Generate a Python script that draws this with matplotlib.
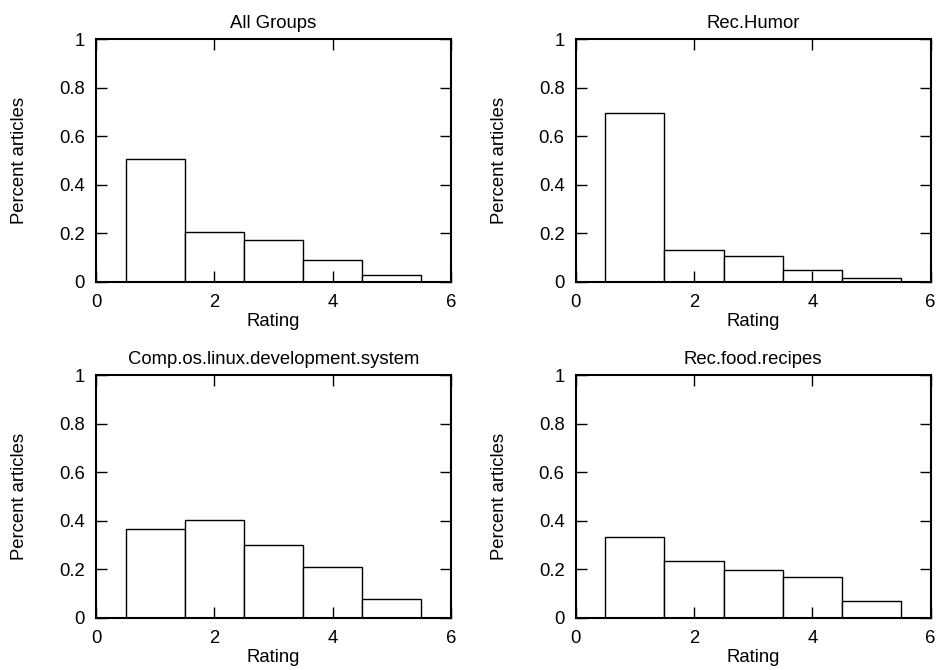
import matplotlib
matplotlib.use("Agg")
import matplotlib.pyplot as plt

plt.rcParams["font.family"] = ["Liberation Sans", "DejaVu Sans"]
plt.rcParams["font.size"] = 13.3

ratings = [1, 2, 3, 4, 5]
titles = ["All Groups", "Rec.Humor", "Comp.os.linux.development.system", "Rec.food.recipes"]

all_groups = [0.505, 0.204, 0.171, 0.088, 0.026]
rec_humor = [0.697, 0.131, 0.104, 0.048, 0.015]
comp_linux = [0.365, 0.403, 0.300, 0.210, 0.076]
food_recipes = [0.333, 0.234, 0.195, 0.168, 0.069]

series = [all_groups, rec_humor, comp_linux, food_recipes]

fig = plt.figure(figsize=(9.39, 6.70), dpi=100)

# axes boxes in figure fractions: left, bottom, width, height
boxes = [
    [0.1022, 0.5796, 0.378, 0.3617],
    [0.6131, 0.5796, 0.378, 0.3617],
    [0.1022, 0.0781, 0.378, 0.3619],
    [0.6131, 0.0781, 0.378, 0.3619],
]

for box, title, values in zip(boxes, titles, series):
    ax = fig.add_axes(box)
    ax.bar(ratings, values, width=1.0, color="white", edgecolor="black", linewidth=1.0)
    ax.set_xlim(0, 6)
    ax.set_ylim(0, 1)
    ax.set_xticks([0, 2, 4, 6])
    ax.set_yticks([0, 0.2, 0.4, 0.6, 0.8, 1.0])
    ax.set_yticklabels(["0", "0.2", "0.4", "0.6", "0.8", "1"])
    ax.tick_params(direction="in", length=8, width=1, top=True, right=True, pad=8)
    ax.tick_params(axis="x", pad=9)
    for spine in ax.spines.values():
        spine.set_linewidth(1.5)
    ax.set_title(title, fontsize=13.3, pad=8)
    ax.set_xlabel("Rating", labelpad=1)
    ax.set_ylabel("Percent articles", labelpad=22)

fig.savefig("out.png", dpi=100)
plt.close()
